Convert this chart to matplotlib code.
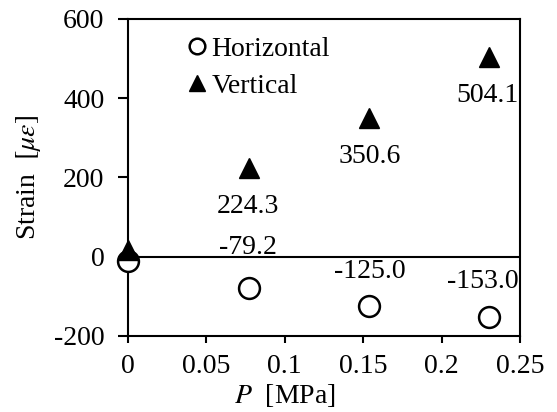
import matplotlib
matplotlib.use("Agg")
import matplotlib.pyplot as plt

plt.rcParams['font.family'] = ['Liberation Serif', 'DejaVu Serif']
plt.rcParams['mathtext.fontset'] = 'stix'
plt.rcParams['axes.unicode_minus'] = False

# data
pressure = [0.0, 0.077, 0.154, 0.230]
horizontal = [-10.0, -79.2, -125.0, -153.0]
vertical = [18.0, 224.3, 350.6, 504.1]
h_labels = ["", "-79.2", "-125.0", "-153.0"]
v_labels = ["", "224.3", "350.6", "504.1"]
h_label_x = [0, 0.0767, 0.154, 0.2265]
h_label_y = [0, 23, -38, -63]
v_label_x = [0, 0.0767, 0.154, 0.2295]
v_label_y = [0, 126, 252, 408]

fig = plt.figure(figsize=(5.57, 4.12), dpi=100)
ax = fig.add_axes([0.2298, 0.1845, 0.7038, 0.7694])

ax.axhline(0, color='black', lw=1.5, zorder=1)
ax.plot(pressure, horizontal, 'o', ms=15, mfc='white', mec='black', mew=1.8,
        label='Horizontal', clip_on=False, zorder=3)
ax.plot(pressure, vertical, '^', ms=15, mfc='black', mec='black',
        label='Vertical', clip_on=False, zorder=3)

for x, y, t in zip(h_label_x, h_label_y, h_labels):
    if t:
        ax.text(x, y, t, ha='center', va='center', fontsize=20)
for x, y, t in zip(v_label_x, v_label_y, v_labels):
    if t:
        ax.text(x, y, t, ha='center', va='center', fontsize=20)

ax.set_xlim(0, 0.25)
ax.set_ylim(-200, 600)
ax.set_xticks([0, 0.05, 0.1, 0.15, 0.2, 0.25])
ax.set_xticklabels(['0', '0.05', '0.1', '0.15', '0.2', '0.25'])
ax.set_yticks([-200, 0, 200, 400, 600])
ax.tick_params(direction='out', width=1.5, labelsize=20)
ax.tick_params(axis='x', length=5, pad=8)
ax.tick_params(axis='y', length=7, pad=10)
for s in ax.spines.values():
    s.set_linewidth(1.5)

ax.set_xlabel(r'$P$  [MPa]', fontsize=20, labelpad=2, x=0.40)
ax.set_ylabel(r'Strain  $[\mu\varepsilon]$', fontsize=20, labelpad=8)

ax.legend(loc='upper left', bbox_to_anchor=(0.156, 0.946), frameon=False,
          fontsize=20, markerscale=0.75, handlelength=0.6, handletextpad=0.2,
          labelspacing=0.44, borderpad=0, borderaxespad=0)

fig.savefig('out.png', dpi=100)
